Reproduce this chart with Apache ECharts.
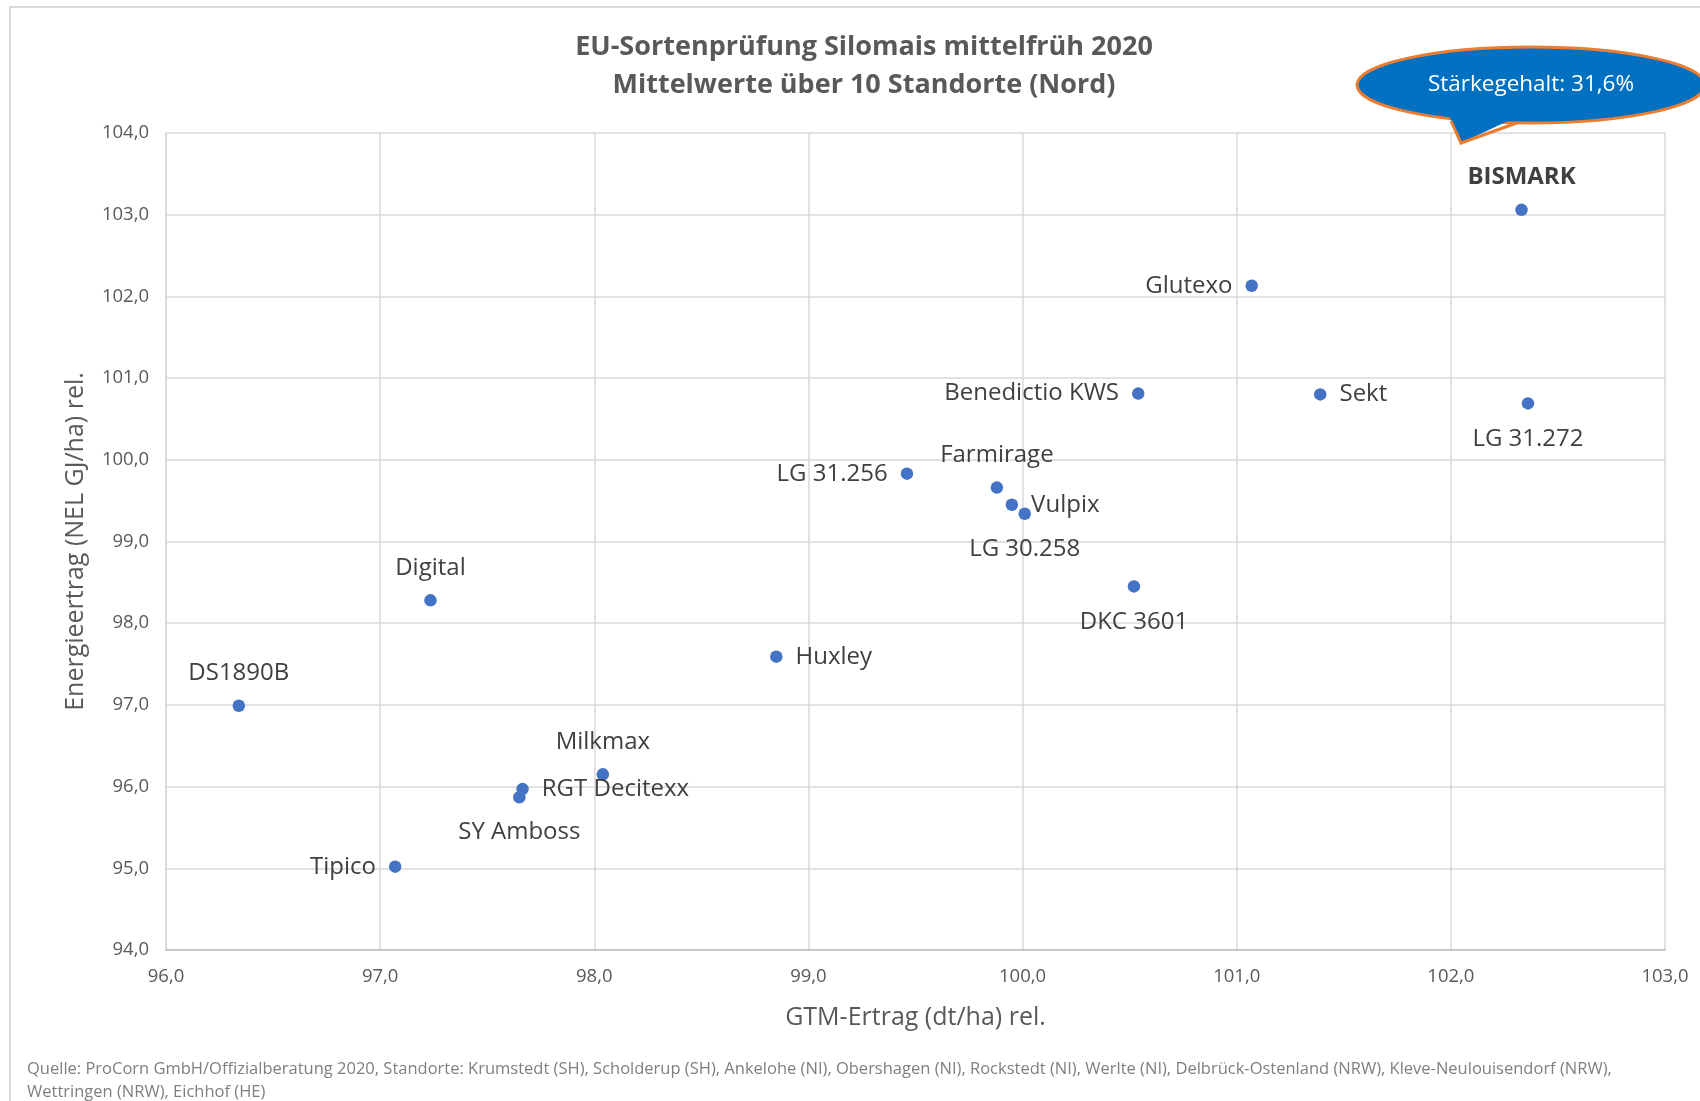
<!DOCTYPE html>
<html><head><meta charset="utf-8">
<script src="https://cdn.jsdelivr.net/npm/echarts@6/dist/echarts.min.js"></script>
<style>html,body{margin:0;padding:0;background:#fff}#c{width:1700px;height:1101px}</style>
</head><body><div id="c"></div>
<script>
const varieties = ['BISMARK','Glutexo','Benedictio KWS','Sekt','LG 31.272','LG 31.256','Farmirage','Vulpix','LG 30.258','DKC 3601','Digital','Huxley','DS1890B','Milkmax','RGT Decitexx','SY Amboss','Tipico'];
const gtmYield = [102.33,101.07,100.54,101.39,102.36,99.46,99.88,99.95,100.01,100.52,97.235,98.85,96.34,98.04,97.665,97.65,97.07];
const energyYield = [103.06,102.13,100.81,100.80,100.69,99.83,99.66,99.45,99.34,98.45,98.28,97.59,96.99,96.15,95.97,95.87,95.02];
const xTicks = [96,97,98,99,100,101,102,103];
const yTicks = [94,95,96,97,98,99,100,101,102,103,104];
const titleLines = ['EU-Sortenprüfung Silomais mittelfrüh 2020','Mittelwerte über 10 Standorte (Nord)'];
const calloutText = 'Stärkegehalt: 31,6%';
const xName = 'GTM-Ertrag (dt/ha) rel.';
const yName = 'Energieertrag (NEL GJ/ha) rel.';
const sourceText = 'Quelle: ProCorn GmbH/Offizialberatung 2020, Standorte: Krumstedt (SH), Scholderup (SH), Ankelohe (NI), Obershagen (NI), Rockstedt (NI), Werlte (NI), Delbrück-Ostenland (NRW), Kleve-Neulouisendorf (NRW),\nWettringen (NRW), Eichhof (HE)';

// label placement (style only)
const labelPos = {
  'BISMARK':'top','Glutexo':'left','Benedictio KWS':'left','Sekt':'right','LG 31.272':'bottom',
  'LG 31.256':'left','Farmirage':'top','Vulpix':'right','LG 30.258':'bottom','DKC 3601':'bottom',
  'Digital':'top','Huxley':'right','DS1890B':'top','Milkmax':'top','RGT Decitexx':'right',
  'SY Amboss':'bottom','Tipico':'left'
};
const fmt = v => v.toFixed(1).replace('.', ',');
const FONT = '"Open Sans", "Noto Sans", sans-serif';

const data = varieties.map((n,i) => {
  const pos = labelPos[n];
  const horiz = pos === 'left' || pos === 'right';
  return {
    name: n,
    value: [gtmYield[i], energyYield[i]],
    label: {
      show: true, position: pos, formatter: n,
      distance: horiz ? 13 : (pos === 'top' ? 14 : 17),
      fontWeight: n === 'BISMARK' ? 'bold' : 'normal'
    }
  };
});

const chart = echarts.init(document.getElementById('c'));
chart.setOption({
  animation: false,
  backgroundColor: '#fff',
  textStyle: { fontFamily: FONT },
  grid: { left: 166, right: 35, top: 133, bottom: 151, containLabel: false },
  xAxis: {
    type: 'value', min: xTicks[0], max: xTicks[xTicks.length-1], interval: 1,
    name: xName, nameLocation: 'middle', nameGap: 55,
    nameTextStyle: { fontSize: 25, color: '#595959', fontFamily: FONT },
    axisLine: { show: true, lineStyle: { color: '#bfbfbf', width: 1.5 } },
    axisTick: { show: false },
    axisLabel: { formatter: fmt, fontSize: 18.5, color: '#595959', margin: 17 },
    splitLine: { show: true, lineStyle: { color: '#d9d9d9', width: 1.5 } }
  },
  yAxis: {
    type: 'value', min: yTicks[0], max: yTicks[yTicks.length-1], interval: 1,
    name: yName, nameLocation: 'middle', nameGap: 78,
    nameTextStyle: { fontSize: 25, color: '#595959', fontFamily: FONT },
    axisLine: { show: true, lineStyle: { color: '#d9d9d9', width: 1.5 } },
    axisTick: { show: false },
    axisLabel: { formatter: fmt, fontSize: 18.5, color: '#595959', margin: 17 },
    splitLine: { show: true, lineStyle: { color: '#d9d9d9', width: 1.5 } }
  },
  series: [{
    type: 'scatter', symbolSize: 12.5,
    itemStyle: { color: '#4472C4', opacity: 1 },
    label: { color: '#404040', fontSize: 24, fontFamily: FONT },
    data: data
  }],
  graphic: [
    { type: 'rect', shape: { x: 10, y: 7, width: 1720, height: 1120 }, style: { fill: 'none', stroke: '#d9d9d9', lineWidth: 2 }, silent: true, z: -10 },
    { type: 'text', x: 864, y: 28, style: { text: titleLines.join('\n'), textAlign: 'center', font: 'bold 27px ' + FONT, fill: '#595959', lineHeight: 38 } },
    { type: 'ellipse', shape: { cx: 1531, cy: 85, rx: 174, ry: 38 }, style: { fill: '#0070C0', stroke: '#ED7D31', lineWidth: 3 }, z: 100 },
    { type: 'polygon', shape: { points: [[1448,113],[1461,143],[1525,113]] }, style: { fill: '#0070C0' }, z: 101 },
    { type: 'polyline', shape: { points: [[1451,121],[1461,143],[1518,122.5]] }, style: { stroke: '#ED7D31', lineWidth: 3, fill: 'none' }, z: 102 },
    { type: 'text', x: 1531, y: 85, style: { text: calloutText, textAlign: 'center', textVerticalAlign: 'middle', font: '22.5px ' + FONT, fill: '#fff' }, z: 103 },
    { type: 'text', x: 27, y: 1058, style: { text: sourceText, font: '16.5px ' + FONT, fill: '#7f7f7f', lineHeight: 23 } }
  ]
});
</script></body></html>
